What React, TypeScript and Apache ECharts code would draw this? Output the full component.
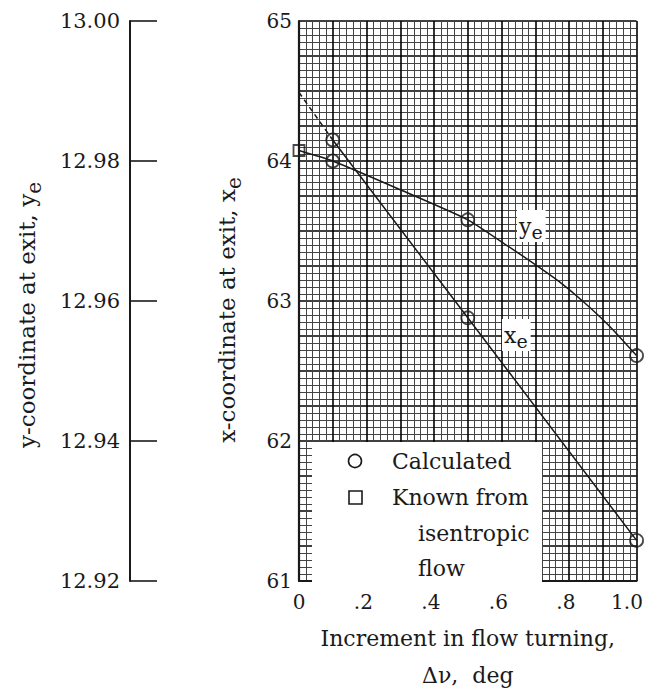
import React, { useEffect, useRef } from "react";
import * as echarts from "echarts";

// ---- data ----
const calcX = [0.1, 0.5, 1.0];
const xeCalc = [64.15, 62.88, 61.29];
const yeCalc = [12.98, 12.9716, 12.9522];
const knownX = [0];
const yeKnown = [12.9815];
const xeExtrapX = [0, 0.1];
const xeExtrapY = [64.49, 64.15];
const yeCurveX = [0, 0.1, 0.3, 0.5, 0.62, 0.7, 0.77, 0.84, 0.92, 1.0];
const yeCurveY = [12.9815, 12.98, 12.9759, 12.9716, 12.9678, 12.9652, 12.9628, 12.96, 12.9564, 12.9522];
const xTickValues = [0, 0.2, 0.4, 0.6, 0.8, 1.0];
const xTickLabels = ["0", ".2", ".4", ".6", ".8", "1.0"];
const xeTickValues = [61, 62, 63, 64, 65];
const xeTickLabels = ["61", "62", "63", "64", "65"];
const yeTickValues = [12.92, 12.94, 12.96, 12.98, 13.0];
const yeTickLabels = ["12.92", "12.94", "12.96", "12.98", "13.00"];

const FONT = "DejaVu Serif";
const INK = "#1a1a1a";

const zip = (a: number[], b: number[]) => a.map((v, i) => [v, b[i]]);

export default function App() {
  const ref = useRef<HTMLDivElement>(null);
  useEffect(() => {
    if (!ref.current) return;
    const chart = echarts.init(ref.current, undefined, { renderer: "svg" });
    const textBase = { fontFamily: FONT, color: INK };
    const majorLine = { show: true, lineStyle: { color: "#000", width: 1.6 } };
    const minorLine = { show: true, lineStyle: { color: "#444", width: 1 } };
    const subRich = (size: number) => ({
      a: { fontFamily: FONT, fontSize: size, lineHeight: size + 10, fill: INK, color: INK },
      b: { fontFamily: FONT, fontSize: size - 3, lineHeight: size - 3, verticalAlign: "bottom", fill: INK, color: INK },
    });
    const rotTitle = (text: string, x: number, y: number) => ({
      type: "text",
      x,
      y,
      rotation: Math.PI / 2,
      z: 100,
      style: { text, align: "center", verticalAlign: "middle", rich: subRich(23) },
    });
    const option: any = {
      animation: false,
      backgroundColor: "#fff",
      grid: { left: 299, top: 21, width: 356, height: 570, show: false },
      xAxis: {
        type: "value",
        min: 0,
        max: 1,
        interval: 0.1,
        axisLine: { show: true, onZero: false, lineStyle: { color: INK, width: 2 } },
        axisTick: { show: false },
        axisLabel: {
          margin: 11,
          formatter: (v: number) => {
            const i = xTickValues.findIndex((t) => Math.abs(t - v) < 1e-6);
            if (i < 0) return "";
            const lab = xTickLabels[i];
            const pre = lab.slice(0, -1);
            return pre ? `{t|${lab}}{h|${pre}}` : `{t|${lab}}`;
          },
          rich: {
            t: { ...textBase, fontSize: 20 },
            h: { fontFamily: FONT, fontSize: 20, color: "transparent" },
          },
        },
        splitLine: majorLine,
        minorTick: { show: false, splitNumber: 5 },
        minorSplitLine: minorLine,
        name: "Increment in flow turning,\nΔν,  deg",
        nameLocation: "middle",
        nameGap: 39,
        nameTextStyle: { ...textBase, fontSize: 22, lineHeight: 37 },
      },
      yAxis: [
        {
          type: "value",
          min: 61,
          max: 65,
          interval: 0.25,
          position: "left",
          axisLine: { show: true, onZero: false, lineStyle: { color: INK, width: 2.2 } },
          axisTick: { show: false },
          axisLabel: {
            margin: 7,
            ...textBase,
            fontSize: 20,
            formatter: (v: number) => {
              const i = xeTickValues.findIndex((t) => Math.abs(t - v) < 1e-6);
              return i < 0 ? "" : xeTickLabels[i];
            },
          },
          splitLine: majorLine,
          minorTick: { show: false, splitNumber: 5 },
          minorSplitLine: minorLine,
        },
        {
          type: "value",
          min: 12.92,
          max: 13.0,
          interval: 0.02,
          position: "left",
          offset: 169,
          axisLine: { show: true, onZero: false, lineStyle: { color: INK, width: 2 } },
          axisTick: { show: true, inside: true, length: 27, lineStyle: { color: INK, width: 1.6 } },
          axisLabel: {
            margin: 10,
            ...textBase,
            fontSize: 21,
            formatter: (v: number) => {
              const i = yeTickValues.findIndex((t) => Math.abs(t - v) < 1e-6);
              return i < 0 ? "" : yeTickLabels[i];
            },
          },
          splitLine: { show: false },
        },
      ],
      series: [
        {
          type: "line",
          yAxisIndex: 1,
          data: zip(yeCurveX, yeCurveY),
          smooth: 0.2,
          showSymbol: false,
          lineStyle: { color: INK, width: 1.5 },
          z: 5,
        },
        {
          type: "line",
          yAxisIndex: 0,
          data: zip(calcX, xeCalc),
          showSymbol: false,
          lineStyle: { color: INK, width: 1.5 },
          z: 5,
        },
        {
          type: "line",
          yAxisIndex: 0,
          data: zip(xeExtrapX, xeExtrapY),
          showSymbol: false,
          lineStyle: { color: INK, width: 1.5, type: [5, 4] },
          z: 5,
        },
        {
          type: "scatter",
          yAxisIndex: 1,
          data: zip(calcX, yeCalc),
          symbol: "circle",
          symbolSize: 13,
          itemStyle: { color: "rgba(255,255,255,0)", borderColor: INK, borderWidth: 1.8 },
          z: 6,
        },
        {
          type: "scatter",
          yAxisIndex: 0,
          data: zip(calcX, xeCalc),
          symbol: "circle",
          symbolSize: 13,
          itemStyle: { color: "rgba(255,255,255,0)", borderColor: INK, borderWidth: 1.8 },
          z: 6,
        },
        {
          type: "scatter",
          yAxisIndex: 1,
          data: zip(knownX, yeKnown),
          symbol: "rect",
          symbolSize: 11,
          clip: false,
          itemStyle: { color: "rgba(255,255,255,0)", borderColor: INK, borderWidth: 1.8 },
          z: 6,
        },
      ],
      graphic: [
        rotTitle("{a|y-coordinate at exit, y}{b|e}", 27, 315),
        rotTitle("{a|x-coordinate at exit, x}{b|e}", 227, 310),
        {
          type: "group",
          z: 100,
          children: [
            { type: "rect", shape: { x: 312, y: 442, width: 230, height: 142 }, style: { fill: "#fff" }, z: 100 },
            { type: "circle", shape: { cx: 355, cy: 461, r: 6.5 }, style: { fill: "#fff", stroke: INK, lineWidth: 1.6 }, z: 101 },
            { type: "rect", shape: { x: 349, y: 491, width: 13, height: 13 }, style: { fill: "#fff", stroke: INK, lineWidth: 1.6 }, z: 101 },
            { type: "text", x: 392, y: 461, style: { text: "Calculated", font: `22px '${FONT}'`, fill: INK, verticalAlign: "middle" }, z: 101 },
            { type: "text", x: 392, y: 497, style: { text: "Known from", font: `22px '${FONT}'`, fill: INK, verticalAlign: "middle" }, z: 101 },
            { type: "text", x: 418, y: 533, style: { text: "isentropic", font: `22px '${FONT}'`, fill: INK, verticalAlign: "middle" }, z: 101 },
            { type: "text", x: 418, y: 568, style: { text: "flow", font: `22px '${FONT}'`, fill: INK, verticalAlign: "middle" }, z: 101 },
          ],
        },
        {
          type: "text",
          x: 517,
          y: 210,
          z: 100,
          style: {
            text: "{a|y}{b|e}",
            backgroundColor: "#fff",
            padding: [1, 3, 1, 2],
            rich: {
              a: { fontFamily: FONT, fontSize: 22, lineHeight: 30, fill: INK, color: INK },
              b: { fontFamily: FONT, fontSize: 19, lineHeight: 19, verticalAlign: "bottom", fill: INK, color: INK },
            },
          },
        },
        {
          type: "text",
          x: 502,
          y: 319,
          z: 100,
          style: {
            text: "{a|x}{b|e}",
            backgroundColor: "#fff",
            padding: [1, 3, 1, 2],
            rich: {
              a: { fontFamily: FONT, fontSize: 22, lineHeight: 30, fill: INK, color: INK },
              b: { fontFamily: FONT, fontSize: 19, lineHeight: 19, verticalAlign: "bottom", fill: INK, color: INK },
            },
          },
        },
      ],
    };
    chart.setOption(option);
    return () => chart.dispose();
  }, []);
  return (
    <div
      ref={ref}
      style={{ position: "fixed", left: 0, top: 0, width: 665, height: 699, background: "#fff" }}
    />
  );
}
